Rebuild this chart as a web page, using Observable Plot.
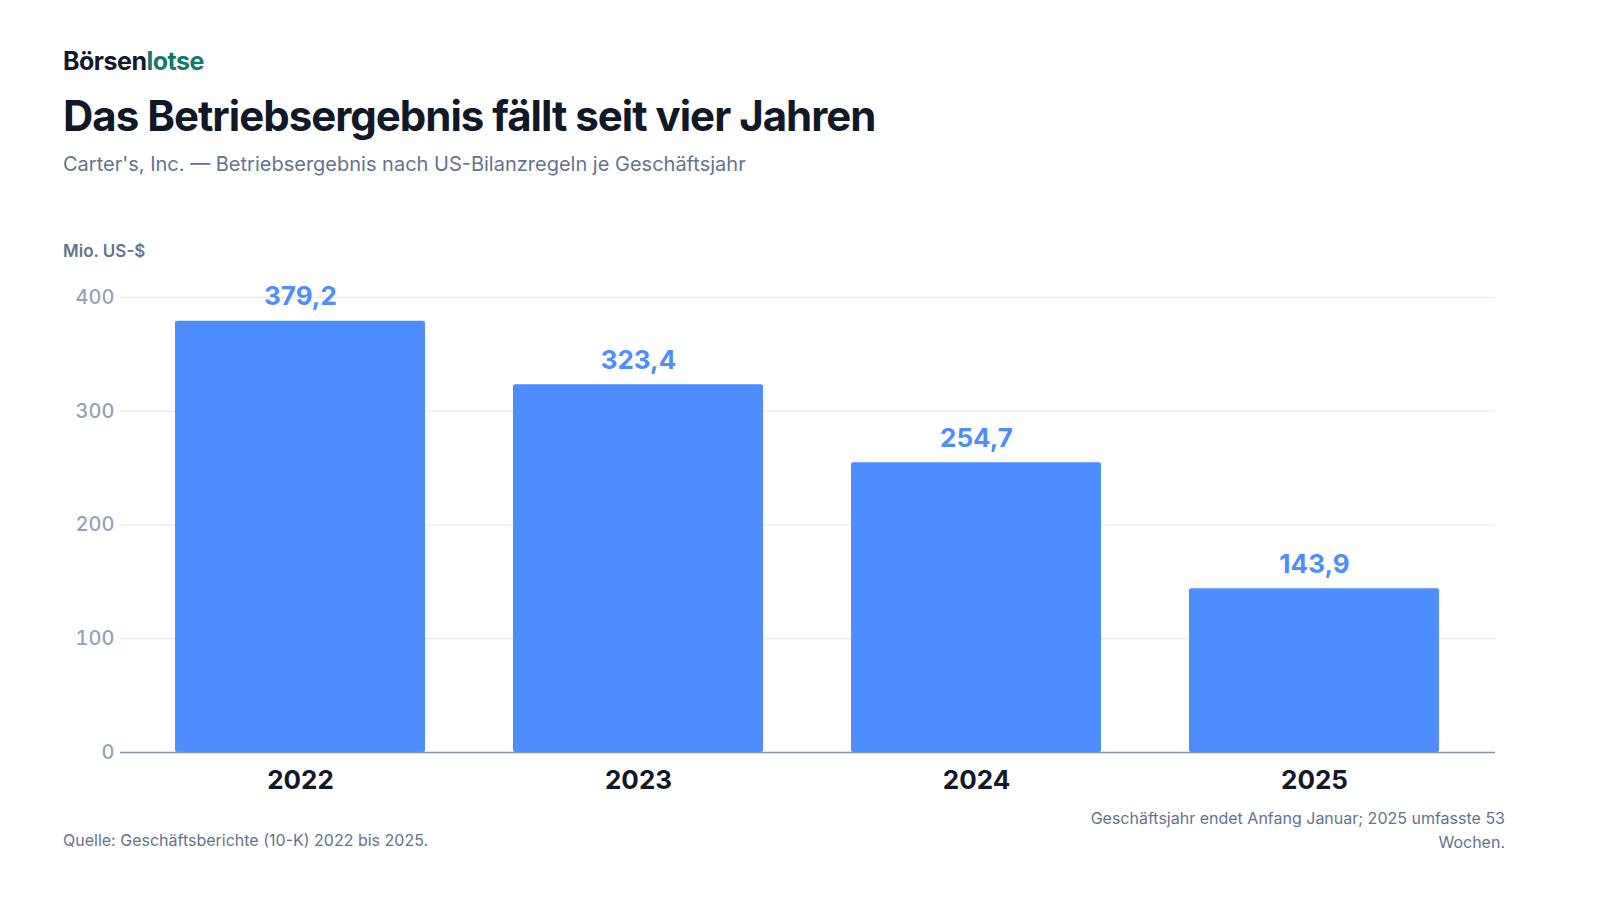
<!DOCTYPE html>
<html><head><meta charset="utf-8">
<script src="https://cdn.jsdelivr.net/npm/d3@7"></script>
<script src="https://cdn.jsdelivr.net/npm/@observablehq/plot@0.6"></script>
<style>
body{margin:0;width:1600px;height:900px;background:#fff;font-family:Inter,sans-serif;position:relative;overflow:hidden}
.a{position:absolute;white-space:nowrap}
</style></head><body>
<div class="a" style="left:63px;top:46px;font-size:25px;font-weight:700;color:#111827;letter-spacing:-0.5px">Börsen<span style="color:#0f7b6c">lotse</span></div>
<div class="a" style="left:63px;top:90px;font-size:42px;font-weight:700;color:#111827;letter-spacing:-1px">Das Betriebsergebnis fällt seit vier Jahren</div>
<div class="a" style="left:63px;top:152px;font-size:20px;color:#64748b">Carter's, Inc. — Betriebsergebnis nach US-Bilanzregeln je Geschäftsjahr</div>
<div class="a" style="left:63px;top:241px;font-size:17px;font-weight:600;color:#64748b">Mio. US-$</div>
<div id="chart" class="a" style="left:63px;top:270px"></div>
<div class="a" style="left:63px;top:830px;font-size:16px;color:#64748b">Quelle: Geschäftsberichte (10-K) 2022 bis 2025.</div>
<div class="a" style="right:95px;top:806px;font-size:16px;color:#64748b;text-align:right;line-height:24px">Geschäftsjahr endet Anfang Januar; 2025 umfasste 53<br>Wochen.</div>
<script>
const years = ["2022","2023","2024","2025"];
const values = [379.2, 323.4, 254.7, 143.9];
const yTicks = [0,100,200,300,400];
const data = years.map((y,i)=>({year:y,value:values[i]}));
const fmt = v => v.toFixed(1).replace(".",",");
const chart = Plot.plot({
  width:1442, height:532, marginLeft:57, marginRight:10, marginTop:27, marginBottom:50,
  style:{fontFamily:"Inter, sans-serif", background:"transparent"},
  x:{domain:years, paddingInner:0.26, paddingOuter:0.16, label:null, tickSize:0},
  y:{domain:[0,400], ticks:yTicks, label:null, tickSize:0},
  marks:[
    Plot.gridY(yTicks.filter(t=>t>0), {stroke:"#e5e7eb", strokeOpacity:1}),
    Plot.barY(data,{x:"year", y:"value", fill:"#4d8dff", rx:2}),
    Plot.ruleY([0],{stroke:"#8a94a6", strokeWidth:1.5}),
    Plot.text(data,{x:"year", y:"value", text:d=>fmt(d.value), dy:-24, fill:"#4d8dff", fontSize:26, fontWeight:700}),
    Plot.axisY({ticks:yTicks, tickSize:0, tickPadding:6, fontSize:20, fontWeight:500, fill:"#94a3b8", label:null}),
    Plot.axisX({tickSize:0, tickPadding:18, fontSize:26, fontWeight:700, fill:"#111827", label:null})
  ]
});
document.getElementById("chart").appendChild(chart);
</script>
</body></html>
